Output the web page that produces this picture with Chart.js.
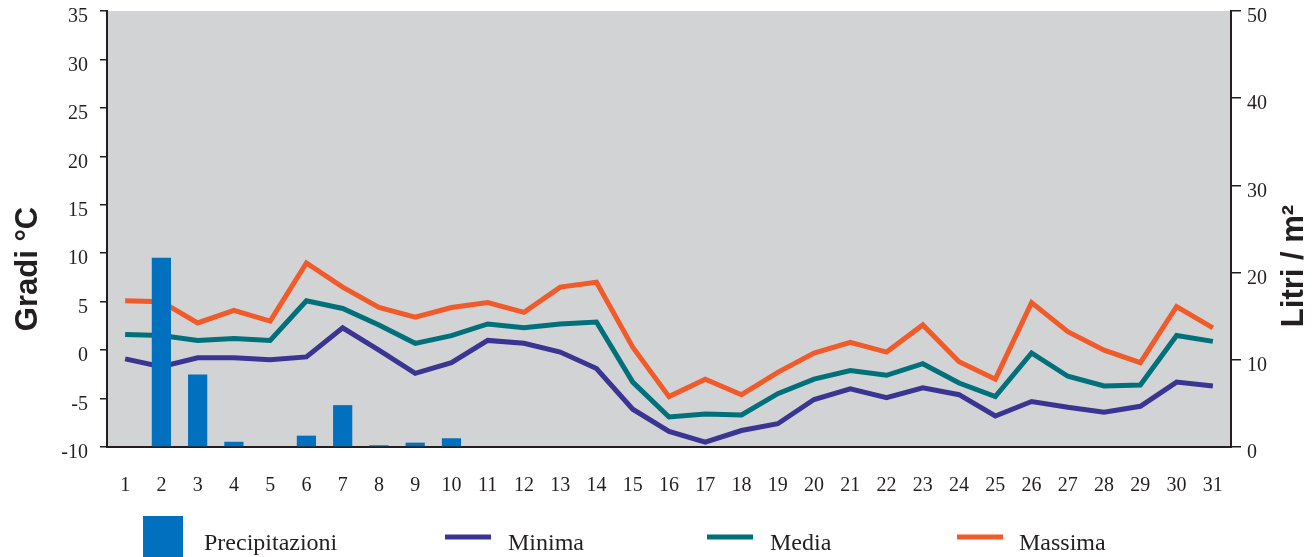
<!DOCTYPE html>
<html>
<head>
<meta charset="utf-8">
<script src="https://cdn.jsdelivr.net/npm/chart.js@4.4.1/dist/chart.umd.min.js"></script>
<style>
  html, body { margin: 0; padding: 0; background: #ffffff; }
  #wrap { width: 1313px; height: 557px; position: relative; }
</style>
</head>
<body>
<div id="wrap"><canvas id="c" width="1313" height="557"></canvas></div>
<script>
// ---- Data ----
const days = ['1','2','3','4','5','6','7','8','9','10','11','12','13','14','15','16','17','18','19','20','21','22','23','24','25','26','27','28','29','30','31'];
const precipitazioni = [0, 21.7, 8.3, 0.6, 0, 1.3, 4.8, 0.2, 0.5, 1.0, 0, 0, 0, 0, 0, 0, 0, 0, 0, 0, 0, 0, 0, 0, 0, 0, 0, 0, 0, 0, 0];
const minima = [-0.9, -1.7, -0.8, -0.8, -1.0, -0.7, 2.3, 0.0, -2.4, -1.3, 1.0, 0.7, -0.2, -1.9, -6.1, -8.4, -9.5, -8.3, -7.6, -5.1, -4.0, -4.9, -3.9, -4.6, -6.8, -5.3, -5.9, -6.4, -5.8, -3.3, -3.7];
const media = [1.6, 1.5, 1.0, 1.2, 1.0, 5.1, 4.3, 2.6, 0.7, 1.5, 2.7, 2.3, 2.7, 2.9, -3.3, -6.9, -6.6, -6.7, -4.5, -3.0, -2.1, -2.6, -1.4, -3.4, -4.8, -0.3, -2.7, -3.7, -3.6, 1.5, 0.9];
const massima = [5.1, 5.0, 2.8, 4.1, 3.0, 9.0, 6.5, 4.4, 3.4, 4.4, 4.9, 3.9, 6.5, 7.0, 0.3, -4.8, -3.0, -4.6, -2.3, -0.3, 0.8, -0.2, 2.6, -1.2, -3.0, 4.9, 1.9, 0.0, -1.3, 4.5, 2.3];
const tempTicks = [-10, 35, 5];   // min, max, step
const rainTicks = [0, 50, 10];    // min, max, step
const leftTitle = 'Gradi °C';
const rightTitle = 'Litri / m²';

// ---- Styles ----
const INK = '#231F20';
const C_BAR = '#0070BF';
const C_MIN = '#3A3592';
const C_MED = '#00707A';
const C_MAX = '#F15A29';
const SERIF = '"Liberation Serif", "Times New Roman", serif';
const SANS = '"Liberation Sans", Arial, sans-serif';

const bgPlugin = {
  id: 'plotBg',
  beforeDraw(chart) {
    const a = chart.chartArea, ctx = chart.ctx;
    ctx.save();
    ctx.fillStyle = '#D1D3D4';
    ctx.fillRect(a.left, a.top, a.right - a.left, a.bottom - a.top);
    ctx.restore();
  }
};

const titlesPlugin = {
  id: 'axisTitles',
  afterDraw(chart) {
    const ctx = chart.ctx, a = chart.chartArea;
    const cy = (a.top + a.bottom) / 2;
    ctx.save();
    ctx.fillStyle = INK;
    ctx.font = 'bold 31px ' + SANS;
    ctx.textAlign = 'center';
    ctx.textBaseline = 'alphabetic';
    ctx.save();
    ctx.translate(37, cy + 40);
    ctx.rotate(-Math.PI / 2);
    ctx.fillText(leftTitle, 0, 0);
    ctx.restore();
    ctx.save();
    ctx.translate(1303, cy + 37);
    ctx.rotate(-Math.PI / 2);
    ctx.fillText(rightTitle, 0, 0);
    ctx.restore();
    ctx.restore();
  }
};

const legendPlugin = {
  id: 'customLegend',
  afterDraw(chart) {
    const ctx = chart.ctx;
    const ds = chart.data.datasets;
    const slots = [
      { i: 0, mx: 143, tx: 204 },
      { i: 1, mx: 445, tx: 508 },
      { i: 2, mx: 707, tx: 770 },
      { i: 3, mx: 957, tx: 1019 }
    ];
    ctx.save();
    ctx.font = '24px ' + SERIF;
    ctx.textBaseline = 'alphabetic';
    ctx.textAlign = 'left';
    slots.forEach(s => {
      const d = ds[s.i];
      if (d.type === 'bar') {
        ctx.fillStyle = d.backgroundColor;
        ctx.fillRect(s.mx, 516, 40, 41);
      } else {
        ctx.fillStyle = d.borderColor;
        ctx.fillRect(s.mx, 534.5, 46, 5);
      }
      ctx.fillStyle = INK;
      ctx.fillText(d.label, s.tx, 550);
    });
    ctx.restore();
  }
};

const lineDs = (label, data, color) => ({
  type: 'line', label, data, yAxisID: 'y',
  borderColor: color, backgroundColor: color,
  borderWidth: 5, pointRadius: 0, pointHoverRadius: 0,
  tension: 0, borderJoinStyle: 'miter', borderCapStyle: 'butt',
  fill: false, order: 2
});

function noPad(s) { s.paddingTop = 0; s.paddingBottom = 0; s.paddingLeft = 0; s.paddingRight = 0; }

new Chart(document.getElementById('c'), {
  data: {
    labels: days,
    datasets: [
      { type: 'bar', label: 'Precipitazioni', data: precipitazioni, yAxisID: 'y1',
        backgroundColor: C_BAR, borderWidth: 0, barPercentage: 0.53, categoryPercentage: 1.0, order: 1 },
      lineDs('Minima', minima, C_MIN),
      lineDs('Media', media, C_MED),
      lineDs('Massima', massima, C_MAX)
    ]
  },
  options: {
    responsive: false,
    animation: false,
    events: [],
    layout: { padding: { top: 11, left: 0, right: 0, bottom: 0 } },
    plugins: { legend: { display: false }, tooltip: { enabled: false }, title: { display: false } },
    scales: {
      x: {
        type: 'category', offset: true,
        grid: { display: false },
        border: { display: true, color: INK, width: 2 },
        ticks: { color: INK, font: { family: SERIF, size: 20 }, padding: 19, maxRotation: 0, autoSkip: false },
        afterFit(s) { s.height = 110; noPad(s); }
      },
      y: {
        position: 'left', min: tempTicks[0], max: tempTicks[1],
        grid: { display: true, drawOnChartArea: false, drawTicks: true, tickLength: 7, color: INK, lineWidth: 1.5 },
        border: { display: true, color: INK, width: 2 },
        ticks: { stepSize: tempTicks[2], color: INK, font: { family: SERIF, size: 20 }, padding: 12, labelOffset: 6 },
        afterFit(s) { s.width = 107; noPad(s); }
      },
      y1: {
        position: 'right', min: rainTicks[0], max: rainTicks[1],
        grid: { display: true, drawOnChartArea: false, drawTicks: true, tickLength: 10, color: INK, lineWidth: 1.5 },
        border: { display: true, color: INK, width: 2 },
        ticks: { stepSize: rainTicks[2], color: INK, font: { family: SERIF, size: 20 }, padding: 6, labelOffset: 6 },
        afterFit(s) { s.width = 82; noPad(s); }
      }
    }
  },
  plugins: [bgPlugin, titlesPlugin, legendPlugin]
});
</script>
</body>
</html>
